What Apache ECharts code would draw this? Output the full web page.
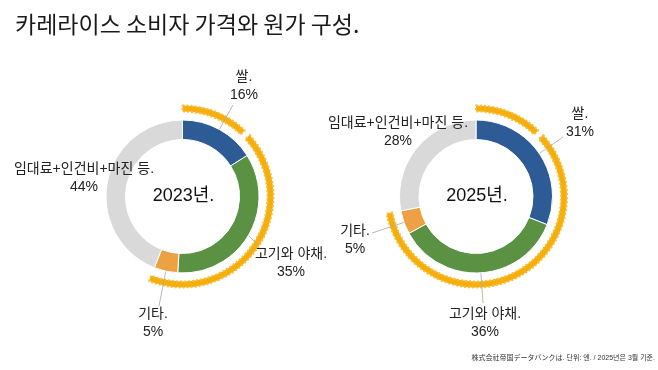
<!DOCTYPE html>
<html>
<head>
<meta charset="utf-8">
<script src="https://cdn.jsdelivr.net/npm/echarts@6/dist/echarts.min.js"></script>
<style>
  html, body { margin: 0; padding: 0; background: #fff; }
  #chart { width: 658px; height: 370px; }
</style>
</head>
<body>
<div id="chart"></div>
<script>
// ---- data ----
const categories = ['쌀.', '고기와 야채.', '기타.', '임대료+인건비+마진 등.'];
const years = ['2023년.', '2025년.'];
const values2023 = [16, 35, 5, 44];
const values2025 = [31, 36, 5, 28];
const titleText = '카레라이스 소비자 가격와 원가 구성.';
const noteText = '株式会社帝国データバンクは. 단위: 엔. / 2025년은 3월 기준.';

// ---- styling / layout ----
const colors = ['#2c5b96', '#5a9142', '#eca244', '#d9d9d9'];
const grain = '#f5ae0c';
const FONT = '"Liberation Sans", "Noto Sans CJK KR", sans-serif';
const centers = [[182.5, 196.5], [476, 196.5]];
const labelPos = [
  [[244, 86], [291, 263], [153, 323], [84, 178]],
  [[580, 123], [485, 323], [355, 240], [398, 132]]
];
// where each leader line meets its label
const lineEnds = [
  [[233, 105], [257, 244], [159, 306], null],
  [[563, 137], [483, 303], [372, 233], null]
];

function donut(vals, idx) {
  return {
    type: 'pie',
    center: centers[idx],
    radius: [57, 76.5],
    startAngle: 90,
    clockwise: true,
    avoidLabelOverlap: false,
    silent: true,
    z: 3,
    itemStyle: { borderColor: '#fff', borderWidth: 1 },
    label: {
      show: true,
      position: 'outside',
      formatter: '{b}\n{c}%',
      fontFamily: FONT,
      fontSize: 14,
      lineHeight: 18,
      color: '#222'
    },
    labelLine: {
      show: true,
      length: 8,
      length2: 6,
      lineStyle: { color: '#a8a8a8', width: 0.8 }
    },
    labelLayout: function (p) {
      const pos = labelPos[idx][p.dataIndex];
      const out = { x: pos[0], y: pos[1], align: 'center', verticalAlign: 'middle' };
      const end = lineEnds[idx][p.dataIndex];
      if (end && p.labelLinePoints && p.labelLinePoints.length) {
        const s = p.labelLinePoints[0];
        out.labelLinePoints = [[s[0], s[1]], [end[0], end[1]]];
      }
      return out;
    },
    data: vals.map((v, i) => ({
      name: categories[i],
      value: v,
      itemStyle: { color: colors[i] },
      labelLine: { show: i !== 3 }
    }))
  };
}

function grainRing(vals, idx) {
  const food = vals[0] + vals[1] + vals[2];
  const grainStyle = { color: grain, borderColor: '#f7bf3a', borderWidth: 2, borderType: 'dotted' };
  return {
    type: 'pie',
    center: centers[idx],
    radius: [85, 91],
    startAngle: 90,
    clockwise: true,
    silent: true,
    z: 2,
    label: { show: false },
    labelLine: { show: false },
    data: [
      { value: 12, itemStyle: grainStyle },
      { value: 1.2, itemStyle: { color: 'transparent' } },
      { value: food - 13.2, itemStyle: grainStyle },
      { value: 100 - food, itemStyle: { color: 'transparent' } }
    ]
  };
}

const chart = echarts.init(document.getElementById('chart'), null, { renderer: 'canvas' });
chart.setOption({
  animation: false,
  backgroundColor: '#fff',
  title: {
    text: titleText,
    left: 10,
    top: 8,
    textStyle: { fontFamily: '"Noto Sans CJK KR", sans-serif', fontSize: 23, fontWeight: 'normal', color: '#1a1a1a' }
  },
  graphic: [
    ...years.map((y, i) => ({
      type: 'text',
      x: centers[i][0] + 1,
      y: centers[i][1],
      style: { text: y, font: '18px ' + FONT, fill: '#111', textAlign: 'center', textVerticalAlign: 'middle' }
    })),
    {
      type: 'text',
      x: 655,
      y: 358,
      style: { text: noteText, font: '7px ' + FONT, fill: '#333', textAlign: 'right', textVerticalAlign: 'middle' }
    }
  ],
  series: [
    grainRing(values2023, 0),
    grainRing(values2025, 1),
    donut(values2023, 0),
    donut(values2025, 1)
  ]
});
</script>
</body>
</html>
